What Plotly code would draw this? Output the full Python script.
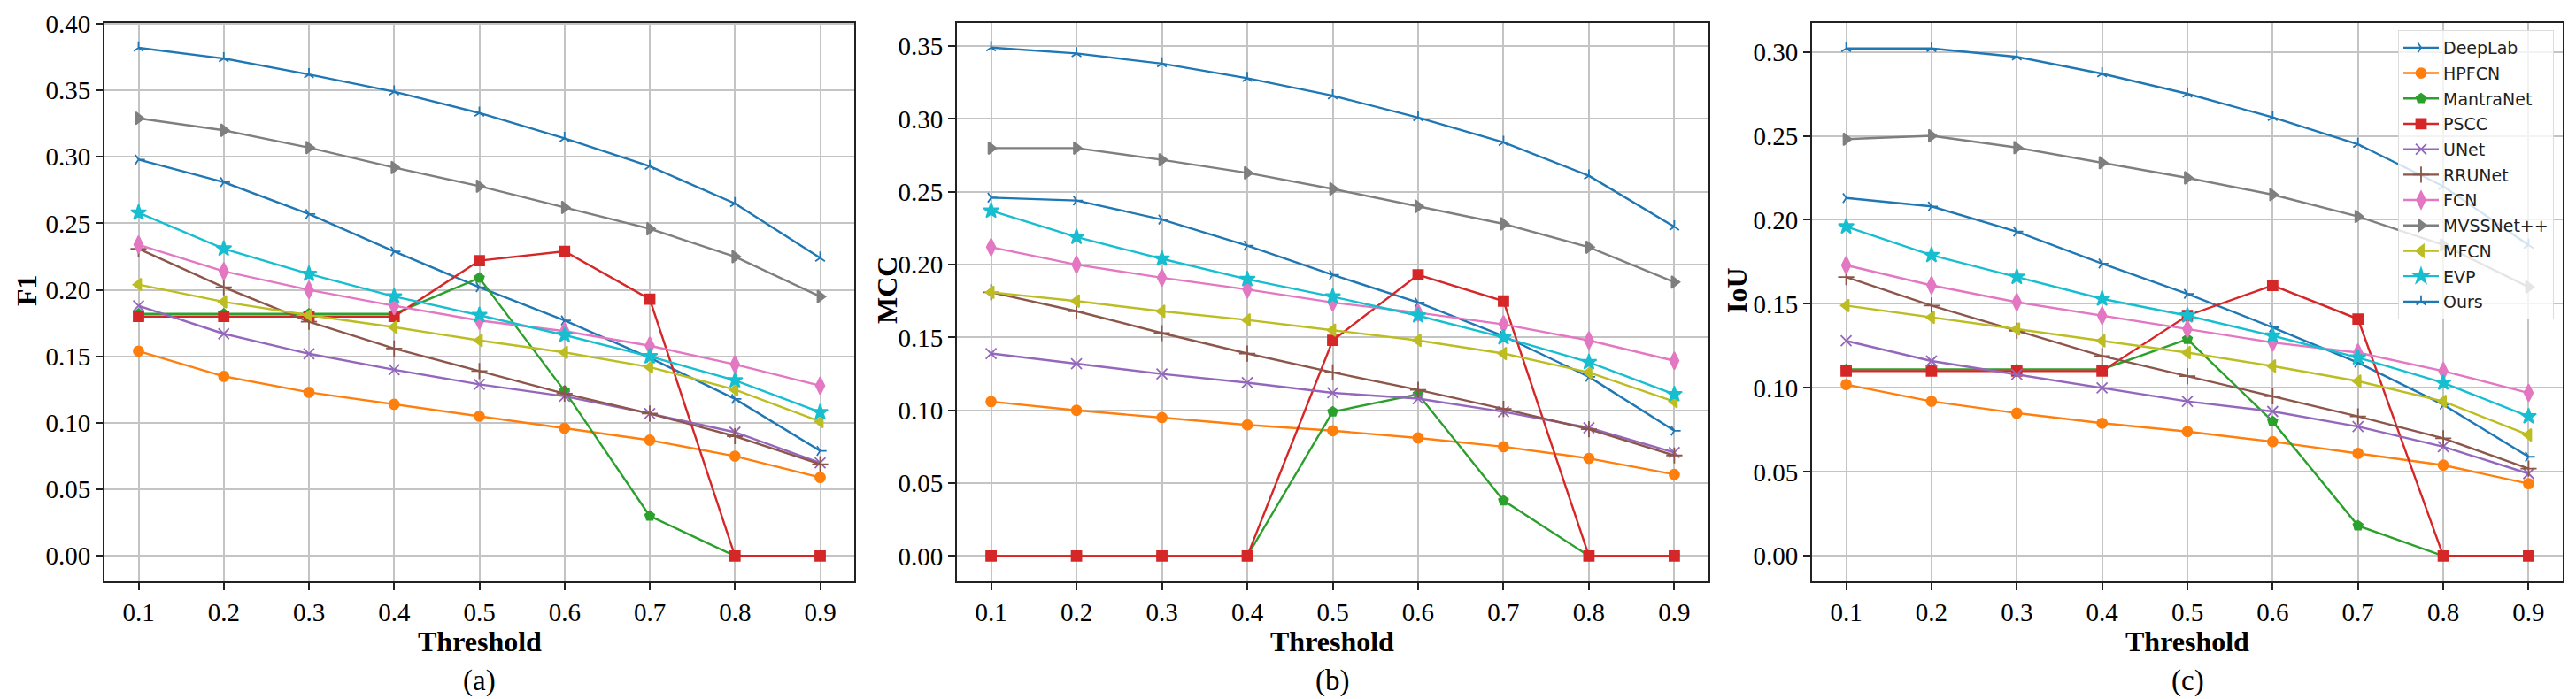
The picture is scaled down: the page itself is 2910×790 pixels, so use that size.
import plotly.graph_objects as go
from plotly.subplots import make_subplots

W, H = 2910, 790

thresholds = [0.1, 0.2, 0.3, 0.4, 0.5, 0.6, 0.7, 0.8, 0.9]
tick_text = ['0.1', '0.2', '0.3', '0.4', '0.5', '0.6', '0.7', '0.8', '0.9']
models = ['DeepLab', 'HPFCN', 'MantraNet', 'PSCC', 'UNet', 'RRUNet',
          'FCN', 'MVSSNet++', 'MFCN', 'EVP', 'Ours']

# F1
f1_deeplab = [0.298, 0.281, 0.257, 0.229, 0.202, 0.177, 0.149, 0.118, 0.079]
f1_hpfcn = [0.154, 0.135, 0.123, 0.114, 0.105, 0.096, 0.087, 0.075, 0.059]
f1_mantranet = [0.182, 0.182, 0.182, 0.182, 0.209, 0.124, 0.030, 0.0, 0.0]
f1_pscc = [0.180, 0.180, 0.180, 0.180, 0.222, 0.229, 0.193, 0.0, 0.0]
f1_unet = [0.188, 0.167, 0.152, 0.140, 0.129, 0.120, 0.107, 0.093, 0.070]
f1_rrunet = [0.231, 0.202, 0.176, 0.156, 0.139, 0.122, 0.107, 0.090, 0.069]
f1_fcn = [0.234, 0.214, 0.200, 0.188, 0.177, 0.169, 0.158, 0.144, 0.128]
f1_mvss = [0.329, 0.320, 0.307, 0.292, 0.278, 0.262, 0.246, 0.225, 0.195]
f1_mfcn = [0.204, 0.191, 0.181, 0.172, 0.162, 0.153, 0.142, 0.125, 0.101]
f1_evp = [0.258, 0.231, 0.212, 0.195, 0.181, 0.166, 0.150, 0.132, 0.108]
f1_ours = [0.382, 0.374, 0.362, 0.349, 0.333, 0.314, 0.293, 0.265, 0.224]

# MCC
mcc_deeplab = [0.246, 0.244, 0.231, 0.213, 0.193, 0.174, 0.151, 0.123, 0.086]
mcc_hpfcn = [0.106, 0.100, 0.095, 0.090, 0.086, 0.081, 0.075, 0.067, 0.056]
mcc_mantranet = [0.0, 0.0, 0.0, 0.0, 0.099, 0.111, 0.038, 0.0, 0.0]
mcc_pscc = [0.0, 0.0, 0.0, 0.0, 0.148, 0.193, 0.175, 0.0, 0.0]
mcc_unet = [0.139, 0.132, 0.125, 0.119, 0.112, 0.108, 0.099, 0.088, 0.071]
mcc_rrunet = [0.181, 0.168, 0.153, 0.139, 0.126, 0.114, 0.101, 0.087, 0.069]
mcc_fcn = [0.212, 0.200, 0.191, 0.183, 0.174, 0.167, 0.159, 0.148, 0.134]
mcc_mvss = [0.280, 0.280, 0.272, 0.263, 0.252, 0.240, 0.228, 0.212, 0.188]
mcc_mfcn = [0.181, 0.175, 0.168, 0.162, 0.155, 0.148, 0.139, 0.126, 0.106]
mcc_evp = [0.237, 0.219, 0.204, 0.190, 0.178, 0.165, 0.150, 0.133, 0.111]
mcc_ours = [0.349, 0.345, 0.338, 0.328, 0.316, 0.301, 0.284, 0.261, 0.226]

# IoU
iou_deeplab = [0.213, 0.208, 0.193, 0.174, 0.156, 0.136, 0.115, 0.090, 0.059]
iou_hpfcn = [0.102, 0.092, 0.085, 0.079, 0.074, 0.068, 0.061, 0.054, 0.043]
iou_mantranet = [0.111, 0.111, 0.111, 0.111, 0.129, 0.080, 0.018, 0.0, 0.0]
iou_pscc = [0.110, 0.110, 0.110, 0.110, 0.143, 0.161, 0.141, 0.0, 0.0]
iou_unet = [0.128, 0.116, 0.108, 0.100, 0.092, 0.086, 0.077, 0.065, 0.049]
iou_rrunet = [0.166, 0.149, 0.134, 0.119, 0.107, 0.095, 0.083, 0.070, 0.052]
iou_fcn = [0.173, 0.161, 0.151, 0.143, 0.135, 0.127, 0.121, 0.110, 0.097]
iou_mvss = [0.248, 0.250, 0.243, 0.234, 0.225, 0.215, 0.202, 0.185, 0.160]
iou_mfcn = [0.149, 0.142, 0.135, 0.128, 0.121, 0.113, 0.104, 0.092, 0.072]
iou_evp = [0.196, 0.179, 0.166, 0.153, 0.143, 0.131, 0.118, 0.103, 0.083]
iou_ours = [0.302, 0.302, 0.297, 0.287, 0.275, 0.261, 0.245, 0.220, 0.185]

f1_all = [f1_deeplab, f1_hpfcn, f1_mantranet, f1_pscc, f1_unet, f1_rrunet,
          f1_fcn, f1_mvss, f1_mfcn, f1_evp, f1_ours]
mcc_all = [mcc_deeplab, mcc_hpfcn, mcc_mantranet, mcc_pscc, mcc_unet, mcc_rrunet,
           mcc_fcn, mcc_mvss, mcc_mfcn, mcc_evp, mcc_ours]
iou_all = [iou_deeplab, iou_hpfcn, iou_mantranet, iou_pscc, iou_unet, iou_rrunet,
           iou_fcn, iou_mvss, iou_mfcn, iou_evp, iou_ours]

colors = ['#1f77b4', '#ff7f0e', '#2ca02c', '#d62728', '#9467bd', '#8c564b',
          '#e377c2', '#7f7f7f', '#bcbd22', '#17becf', '#1f77b4']
symbols = ['y-right-open', 'circle', 'pentagon', 'square', 'x-thin-open',
           'cross-thin-open', 'diamond-tall', 'triangle-right', 'triangle-left',
           'star', 'y-up-open']
sizes = [9, 11, 11, 11, 12, 13, 14, 12, 12, 13, 9]

panels = [
    ('F1', f1_all, [-0.0191, 0.401], [0, 0.05, 0.10, 0.15, 0.20, 0.25, 0.30, 0.35, 0.40]),
    ('MCC', mcc_all, [-0.0174, 0.3662], [0, 0.05, 0.10, 0.15, 0.20, 0.25, 0.30, 0.35]),
    ('IoU', iou_all, [-0.0151, 0.3174], [0, 0.05, 0.10, 0.15, 0.20, 0.25, 0.30]),
]

# plot frames in pixels (left, right), shared top/bottom
x_px = [(110, 957), (1073, 1922), (2039, 2887)]
top_px, bot_px = 17.5, 649
ylab_px = [22, 994, 1954]
captions = ['(a)', '(b)', '(c)']

fig = make_subplots(rows=1, cols=3)

for p, (name, series, yr, yt) in enumerate(panels):
    for i, m in enumerate(models):
        fig.add_trace(go.Scatter(
            x=thresholds, y=series[i], name=m, mode='lines+markers',
            line=dict(color=colors[i], width=2.4),
            marker=dict(symbol=symbols[i], size=sizes[i], color=colors[i],
                        line=dict(color=colors[i], width=1.8)),
            showlegend=(p == 2), legendgroup=m,
        ), row=1, col=p + 1)

    ax = dict(showline=True, mirror=True, linecolor='#222', linewidth=2,
              ticks='outside', ticklen=8, tickwidth=1.5, tickcolor='#222',
              showgrid=True, gridcolor='#c4c4c4', gridwidth=1.5, zeroline=False,
              automargin=False,
              tickfont=dict(family='Liberation Serif', size=29, color='black'))
    fig.update_xaxes(ax, range=[0.06, 0.94], tickvals=thresholds, ticktext=tick_text,
                     domain=[x_px[p][0] / W, x_px[p][1] / W], row=1, col=p + 1)
    fig.update_yaxes(ax, range=yr, tickvals=yt, ticktext=['%.2f' % v for v in yt],
                     domain=[1 - bot_px / H, 1 - top_px / H], row=1, col=p + 1)

    xc = (x_px[p][0] + x_px[p][1]) / 2 / W
    fig.add_annotation(text='<b>Threshold</b>', x=xc, y=1 - 717 / H, xref='paper', yref='paper',
                       xanchor='center', yanchor='middle', showarrow=False,
                       font=dict(family='Liberation Serif', size=32, color='black'))
    fig.add_annotation(text=captions[p], x=xc, y=1 - 761 / H, xref='paper', yref='paper',
                       xanchor='center', yanchor='middle', showarrow=False,
                       font=dict(family='Liberation Serif', size=33, color='black'))
    fig.add_annotation(text='<b>%s</b>' % name, x=ylab_px[p] / W, y=1 - 320 / H,
                       xref='paper', yref='paper', xanchor='center', yanchor='middle',
                       textangle=-90, showarrow=False,
                       font=dict(family='Liberation Serif', size=32, color='black'))

fig.update_layout(
    width=W, height=H, margin=dict(l=0, r=0, t=0, b=0),
    plot_bgcolor='white', paper_bgcolor='white',
    legend=dict(x=2877 / W, xanchor='right', y=1 - 26 / H, yanchor='top',
                bgcolor='rgba(255,255,255,0.8)', bordercolor='#dddddd', borderwidth=1,
                font=dict(family='DejaVu Sans', size=19, color='#222'),
                tracegroupgap=1, itemwidth=40),
)

fig.write_html("out.html")
